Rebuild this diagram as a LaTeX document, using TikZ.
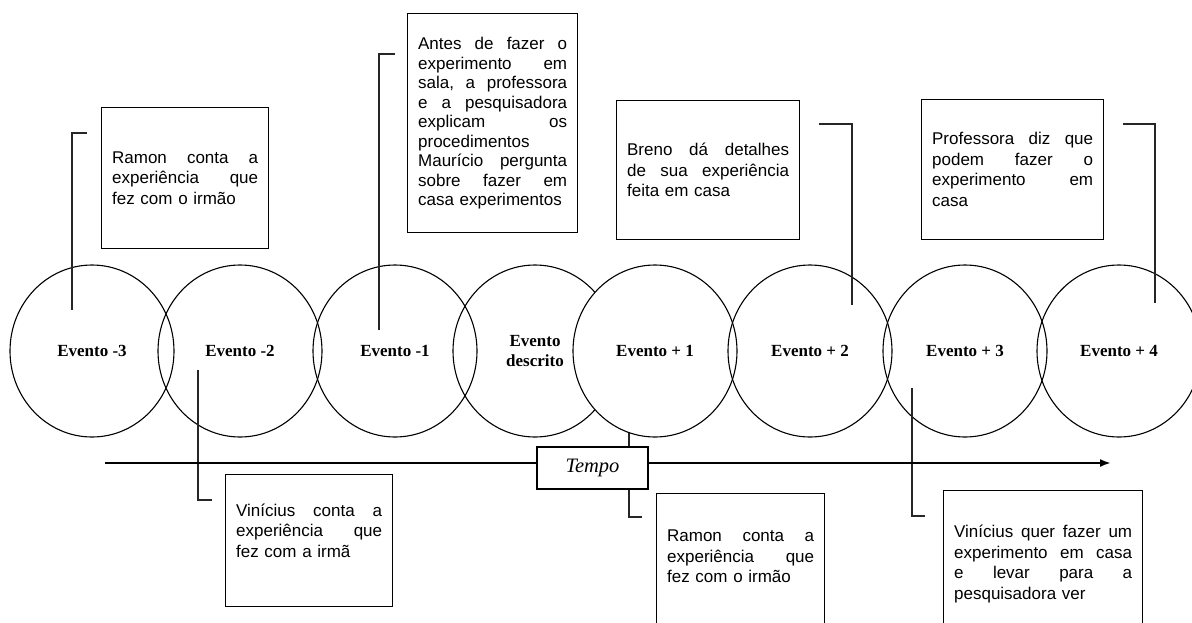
\documentclass[tikz,border=0pt]{standalone}
\usepackage{fontspec}
\setmainfont{Liberation Serif}
\newfontfamily\notafont{Liberation Sans}
\usetikzlibrary{shapes.geometric,arrows.meta}

\begin{document}
\begin{tikzpicture}[x=1pt,y=-1pt,
  evento/.style={ellipse, draw, line width=1.1pt, minimum width=164pt,
    minimum height=172pt, inner sep=0pt, align=center,
    font=\bfseries\fontsize{17}{20}\selectfont},
  nota/.style={draw, line width=1.3pt, anchor=north west, inner xsep=10.5pt,
    inner ysep=0pt, font=\notafont\fontsize{17}{20.5}\selectfont},
  elo/.style={line width=1.6pt, draw=black!85}]

\useasboundingbox (0,0) rectangle (1192,622);
\clip (0,0) rectangle (1192,622);

% Event circles
\node[evento] (em3) at (92,351) {Evento -3};
\node[evento] (em2) at (240,351) {Evento -2};
\node[evento] (em1) at (395,351) {Evento -1};
\node[evento] (edesc) at (535,351) {Evento\\descrito};
\node[evento, fill=white] (ep1) at (655,351) {Evento + 1};
\node[evento] (ep2) at (810,351) {Evento + 2};
\node[evento] (ep3) at (965,351) {Evento + 3};
\node[evento] (ep4) at (1119,351) {Evento + 4};

% Notes above
\node[nota, text width=146pt, minimum height=141pt] (n1) at (101,107)
  {Ramon\hfill conta\hfill a\par experiência\hfill que\par fez com o irmão};
\node[nota, text width=149pt, minimum height=219pt,
  font=\notafont\fontsize{17}{19.5}\selectfont] (n2) at (407,13)
  {Antes\hfill de\hfill fazer\hfill o\par
   experimento\hfill em\par
   sala,\hfill a\hfill professora\par
   e\hfill a\hfill pesquisadora\par
   explicam\hfill os\par
   procedimentos\par
   Maurício\hfill pergunta\par
   sobre\hfill fazer\hfill em\par
   casa experimentos};
\node[nota, text width=162pt, minimum height=139pt] (n3) at (616,100)
  {Breno\hfill dá\hfill detalhes\par de\hfill sua\hfill experiência\par feita em casa};
\node[nota, text width=161pt, minimum height=140pt] (n4) at (921,99)
  {Professora\hfill diz\hfill que\par podem\hfill fazer\hfill o\par
   experimento\hfill em\par casa};

% Notes below
\node[nota, text width=146pt, minimum height=132pt] (n5) at (225,474)
  {Vinícius\hfill conta\hfill a\par experiência\hfill que\par
   fez com a irmã\rule[-20pt]{0pt}{0pt}};
\node[nota, text width=147pt] (n6) at (656,493)
  {\rule{0pt}{48pt}Ramon\hfill conta\hfill a\par experiência\hfill que\par
   fez com o irmão\rule[-100pt]{0pt}{0pt}};
\node[nota, text width=178pt] (n7) at (943,490)
  {\rule{0pt}{47pt}Vinícius\hfill quer\hfill fazer\hfill um\par
   experimento\hfill em\hfill casa\par e\hfill levar\hfill para\hfill a\par
   pesquisadora ver\rule[-100pt]{0pt}{0pt}};

% Links from circles to notes
\coordinate (a1) at (72,310);
\coordinate (a2) at (379,330);
\coordinate (a3) at (852,305);
\coordinate (a4) at (1155,303);
\coordinate (a5) at (198,370);
\coordinate (a6) at (629,433);
\coordinate (a7) at (912,388);
\draw[elo] (a1) |- ([xshift=-14pt,yshift=-26pt]n1.north west);
\draw[elo] (a2) |- ([xshift=-12pt,yshift=-41pt]n2.north west);
\draw[elo] (a3) |- ([xshift=19pt,yshift=-24pt]n3.north east);
\draw[elo] (a4) |- ([xshift=19pt,yshift=-25pt]n4.north east);
\draw[elo] (a5) |- ([xshift=-13pt,yshift=-26pt]n5.north west);
\draw[elo] (a6) |- ([xshift=-14pt,yshift=-24pt]n6.north west);
\draw[elo] (a7) |- ([xshift=-18pt,yshift=-26pt]n7.north west);

% Time axis
\coordinate (t0) at (105,463);
\coordinate (t1) at (1111,463);
\draw[-{Latex[length=11pt,width=8pt]}, line width=2pt] (t0) -- (t1);
\node[draw, fill=white, line width=1.2pt, minimum width=111pt, minimum height=42pt,
  font=\itshape\fontsize{20.5}{23}\selectfont] (tempo) at (592.5,468) {Tempo};

\end{tikzpicture}
\end{document}
